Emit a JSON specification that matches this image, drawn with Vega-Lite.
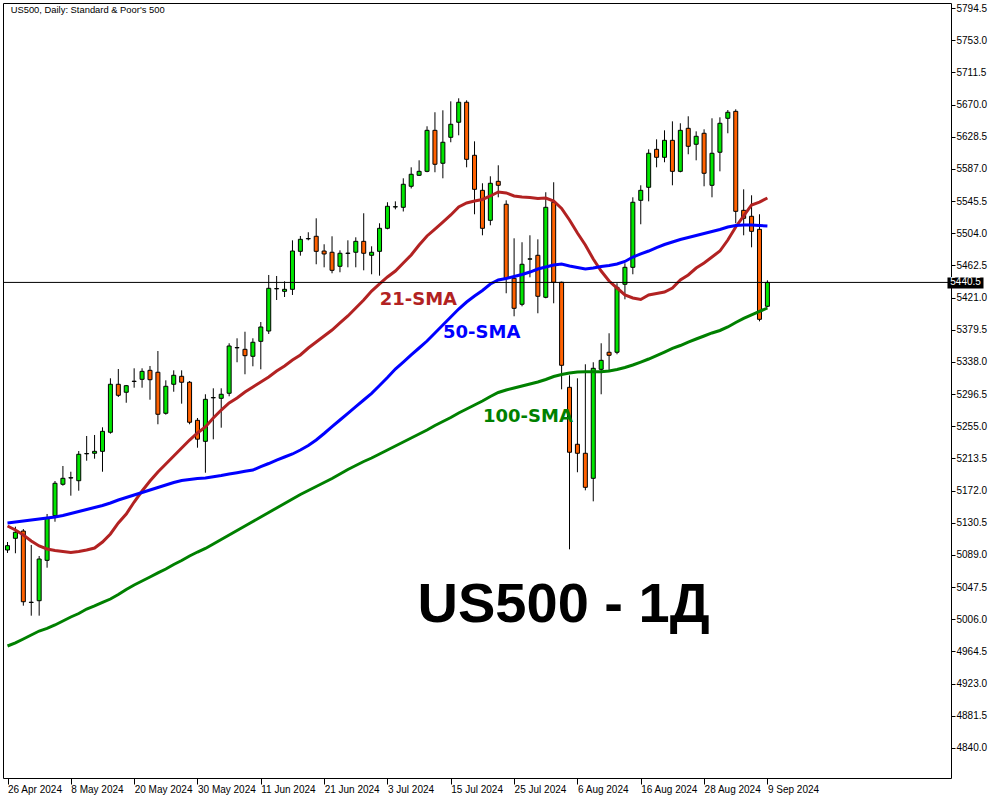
{
  "$schema": "https://vega.github.io/schema/vega-lite/v6.json",
  "width": 948,
  "height": 775,
  "autosize": {"type": "none"},
  "padding": {"left": 3, "top": 3, "right": 49, "bottom": 22},
  "background": "#ffffff",
  "config": {
    "view": {"stroke": "#000000", "strokeWidth": 1},
    "axis": {"grid": false, "domain": false, "tickColor": "#000000", "labelColor": "#000000", "labelFont": "Liberation Sans", "labelFontSize": 10, "labelOverlap": false, "labelFlush": false, "labelBound": false}
  },
  "data": {"values": [
    {"i":0,"d":"2024-04-26","o":5095.3,"h":5105.6,"l":5091.5,"c":5100.9,"s21":5126.3,"s50":5130.2,"s100":4971.5},
    {"i":1,"d":"2024-04-29","o":5110.4,"h":5125.4,"l":5091.1,"c":5118.2,"s21":5121.1,"s50":5131.4,"s100":4975.4},
    {"i":2,"d":"2024-04-30","o":5119.8,"h":5122.4,"l":5023.5,"c":5028.6,"s21":5114.7,"s50":5132.7,"s100":4980.5},
    {"i":3,"d":"2024-05-01","o":5027.6,"h":5101.8,"l":5010.6,"c":5028.0,"s21":5106.9,"s50":5134.0,"s100":4985.7},
    {"i":4,"d":"2024-05-02","o":5029.9,"h":5087.6,"l":5010.6,"c":5083.7,"s21":5100.5,"s50":5135.3,"s100":4990.8},
    {"i":5,"d":"2024-05-03","o":5082.0,"h":5141.8,"l":5072.5,"c":5136.2,"s21":5096.6,"s50":5136.6,"s100":4994.1},
    {"i":6,"d":"2024-05-06","o":5139.6,"h":5184.3,"l":5131.8,"c":5181.4,"s21":5094.7,"s50":5137.9,"s100":4998.6},
    {"i":7,"d":"2024-05-07","o":5180.1,"h":5203.7,"l":5178.3,"c":5187.8,"s21":5093.4,"s50":5139.8,"s100":5003.7},
    {"i":8,"d":"2024-05-08","o":5188.2,"h":5196.3,"l":5165.4,"c":5188.6,"s21":5092.1,"s50":5142.4,"s100":5008.9},
    {"i":9,"d":"2024-05-09","o":5184.7,"h":5223.0,"l":5171.8,"c":5218.8,"s21":5093.4,"s50":5145.0,"s100":5013.4},
    {"i":10,"d":"2024-05-10","o":5219.4,"h":5242.4,"l":5210.5,"c":5219.8,"s21":5095.3,"s50":5147.6,"s100":5019.2},
    {"i":11,"d":"2024-05-13","o":5220.1,"h":5243.7,"l":5213.1,"c":5222.6,"s21":5097.9,"s50":5150.1,"s100":5023.1},
    {"i":12,"d":"2024-05-14","o":5222.6,"h":5253.6,"l":5196.3,"c":5248.4,"s21":5105.6,"s50":5152.7,"s100":5027.6},
    {"i":13,"d":"2024-05-15","o":5247.2,"h":5316.8,"l":5245.4,"c":5309.1,"s21":5116.0,"s50":5156.0,"s100":5032.1},
    {"i":14,"d":"2024-05-16","o":5309.1,"h":5328.8,"l":5292.7,"c":5294.9,"s21":5130.2,"s50":5159.8,"s100":5037.9},
    {"i":15,"d":"2024-05-17","o":5298.8,"h":5308.2,"l":5285.3,"c":5307.3,"s21":5141.8,"s50":5163.0,"s100":5044.4},
    {"i":16,"d":"2024-05-20","o":5312.7,"h":5329.7,"l":5304.7,"c":5313.1,"s21":5157.2,"s50":5166.3,"s100":5050.2},
    {"i":17,"d":"2024-05-21","o":5315.5,"h":5329.7,"l":5304.7,"c":5325.8,"s21":5171.4,"s50":5169.5,"s100":5055.3},
    {"i":18,"d":"2024-05-22","o":5327.1,"h":5332.7,"l":5289.2,"c":5315.0,"s21":5184.3,"s50":5172.7,"s100":5060.5},
    {"i":19,"d":"2024-05-23","o":5324.6,"h":5352.0,"l":5257.5,"c":5270.4,"s21":5195.9,"s50":5175.9,"s100":5065.7},
    {"i":20,"d":"2024-05-24","o":5271.7,"h":5314.2,"l":5269.9,"c":5306.5,"s21":5206.3,"s50":5179.2,"s100":5070.8},
    {"i":21,"d":"2024-05-27","o":5309.1,"h":5327.1,"l":5299.5,"c":5320.7,"s21":5216.6,"s50":5182.4,"s100":5076.6},
    {"i":22,"d":"2024-05-28","o":5319.4,"h":5327.1,"l":5284.1,"c":5311.7,"s21":5226.9,"s50":5185.0,"s100":5081.8},
    {"i":23,"d":"2024-05-29","o":5311.7,"h":5313.3,"l":5257.5,"c":5260.1,"s21":5237.2,"s50":5186.3,"s100":5087.6},
    {"i":24,"d":"2024-05-30","o":5262.6,"h":5265.6,"l":5227.3,"c":5238.3,"s21":5246.3,"s50":5187.6,"s100":5092.7},
    {"i":25,"d":"2024-05-31","o":5235.5,"h":5296.2,"l":5195.0,"c":5289.7,"s21":5254.0,"s50":5188.2,"s100":5097.3},
    {"i":26,"d":"2024-06-03","o":5291.6,"h":5303.9,"l":5238.1,"c":5292.0,"s21":5265.6,"s50":5189.9,"s100":5103.1},
    {"i":27,"d":"2024-06-04","o":5291.0,"h":5303.9,"l":5253.1,"c":5296.2,"s21":5275.9,"s50":5191.4,"s100":5108.9},
    {"i":28,"d":"2024-06-05","o":5297.5,"h":5362.0,"l":5293.6,"c":5358.5,"s21":5285.0,"s50":5193.4,"s100":5114.7},
    {"i":29,"d":"2024-06-06","o":5356.1,"h":5368.4,"l":5337.5,"c":5356.5,"s21":5291.4,"s50":5195.0,"s100":5120.5},
    {"i":30,"d":"2024-06-07","o":5354.2,"h":5376.9,"l":5322.0,"c":5346.0,"s21":5299.1,"s50":5196.8,"s100":5126.3},
    {"i":31,"d":"2024-06-10","o":5345.2,"h":5368.4,"l":5332.3,"c":5363.3,"s21":5305.6,"s50":5198.5,"s100":5132.1},
    {"i":32,"d":"2024-06-11","o":5364.5,"h":5389.4,"l":5328.4,"c":5383.0,"s21":5312.0,"s50":5203.0,"s100":5137.9},
    {"i":33,"d":"2024-06-12","o":5377.8,"h":5450.1,"l":5374.0,"c":5432.9,"s21":5318.5,"s50":5206.9,"s100":5143.7},
    {"i":34,"d":"2024-06-13","o":5432.2,"h":5448.8,"l":5417.8,"c":5432.6,"s21":5326.2,"s50":5211.4,"s100":5149.5},
    {"i":35,"d":"2024-06-14","o":5429.0,"h":5441.9,"l":5421.7,"c":5431.6,"s21":5332.7,"s50":5215.3,"s100":5155.3},
    {"i":36,"d":"2024-06-17","o":5431.6,"h":5494.8,"l":5424.3,"c":5481.0,"s21":5340.4,"s50":5219.2,"s100":5161.1},
    {"i":37,"d":"2024-06-18","o":5480.6,"h":5500.4,"l":5475.0,"c":5496.1,"s21":5346.9,"s50":5224.3,"s100":5166.9},
    {"i":38,"d":"2024-06-19","o":5496.7,"h":5505.2,"l":5494.8,"c":5497.1,"s21":5355.9,"s50":5230.1,"s100":5172.1},
    {"i":39,"d":"2024-06-20","o":5500.0,"h":5523.2,"l":5463.9,"c":5480.6,"s21":5363.6,"s50":5237.2,"s100":5177.2},
    {"i":40,"d":"2024-06-21","o":5481.0,"h":5489.7,"l":5460.0,"c":5477.2,"s21":5371.4,"s50":5245.6,"s100":5182.4},
    {"i":41,"d":"2024-06-24","o":5479.4,"h":5500.0,"l":5452.3,"c":5456.1,"s21":5379.1,"s50":5254.4,"s100":5187.6},
    {"i":42,"d":"2024-06-25","o":5461.3,"h":5481.9,"l":5453.6,"c":5478.1,"s21":5388.2,"s50":5263.0,"s100":5193.4},
    {"i":43,"d":"2024-06-26","o":5477.9,"h":5494.8,"l":5460.0,"c":5478.3,"s21":5397.2,"s50":5271.7,"s100":5199.2},
    {"i":44,"d":"2024-06-27","o":5479.4,"h":5498.7,"l":5460.0,"c":5493.5,"s21":5407.5,"s50":5280.2,"s100":5204.3},
    {"i":45,"d":"2024-06-28","o":5493.5,"h":5529.7,"l":5456.1,"c":5478.1,"s21":5417.8,"s50":5288.8,"s100":5209.5},
    {"i":46,"d":"2024-07-01","o":5475.5,"h":5487.1,"l":5451.0,"c":5479.4,"s21":5429.4,"s50":5297.5,"s100":5214.0},
    {"i":47,"d":"2024-07-02","o":5480.6,"h":5516.8,"l":5449.2,"c":5510.3,"s21":5438.5,"s50":5307.5,"s100":5219.2},
    {"i":48,"d":"2024-07-03","o":5510.3,"h":5543.9,"l":5509.0,"c":5538.7,"s21":5447.5,"s50":5317.8,"s100":5224.3},
    {"i":49,"d":"2024-07-04","o":5537.8,"h":5545.1,"l":5534.8,"c":5538.2,"s21":5455.2,"s50":5328.8,"s100":5229.5},
    {"i":50,"d":"2024-07-05","o":5537.4,"h":5574.8,"l":5532.0,"c":5567.1,"s21":5465.6,"s50":5337.8,"s100":5234.6},
    {"i":51,"d":"2024-07-08","o":5564.5,"h":5589.0,"l":5561.7,"c":5580.0,"s21":5475.9,"s50":5346.9,"s100":5239.8},
    {"i":52,"d":"2024-07-09","o":5578.7,"h":5598.0,"l":5577.8,"c":5583.8,"s21":5488.8,"s50":5355.9,"s100":5245.0},
    {"i":53,"d":"2024-07-10","o":5583.8,"h":5641.9,"l":5582.6,"c":5636.7,"s21":5500.4,"s50":5364.9,"s100":5250.1},
    {"i":54,"d":"2024-07-11","o":5636.7,"h":5660.0,"l":5582.6,"c":5592.9,"s21":5509.4,"s50":5375.3,"s100":5255.9},
    {"i":55,"d":"2024-07-12","o":5594.2,"h":5662.5,"l":5574.8,"c":5621.3,"s21":5518.4,"s50":5385.6,"s100":5261.1},
    {"i":56,"d":"2024-07-15","o":5627.7,"h":5674.1,"l":5621.3,"c":5644.5,"s21":5527.5,"s50":5395.9,"s100":5266.2},
    {"i":57,"d":"2024-07-16","o":5647.1,"h":5678.0,"l":5630.3,"c":5672.9,"s21":5537.8,"s50":5406.2,"s100":5272.1},
    {"i":58,"d":"2024-07-17","o":5672.9,"h":5675.4,"l":5589.0,"c":5599.3,"s21":5543.0,"s50":5415.2,"s100":5277.2},
    {"i":59,"d":"2024-07-18","o":5604.5,"h":5622.5,"l":5528.4,"c":5560.6,"s21":5545.5,"s50":5423.0,"s100":5282.4},
    {"i":60,"d":"2024-07-19","o":5559.3,"h":5568.4,"l":5501.3,"c":5510.3,"s21":5547.5,"s50":5430.1,"s100":5287.5},
    {"i":61,"d":"2024-07-22","o":5520.6,"h":5577.4,"l":5514.2,"c":5568.4,"s21":5552.0,"s50":5438.5,"s100":5293.3},
    {"i":62,"d":"2024-07-23","o":5570.9,"h":5591.6,"l":5550.3,"c":5565.8,"s21":5557.1,"s50":5443.6,"s100":5298.5},
    {"i":63,"d":"2024-07-24","o":5541.3,"h":5546.4,"l":5426.5,"c":5445.8,"s21":5555.9,"s50":5445.6,"s100":5301.7},
    {"i":64,"d":"2024-07-25","o":5445.8,"h":5497.4,"l":5396.8,"c":5407.1,"s21":5552.0,"s50":5448.1,"s100":5304.3},
    {"i":65,"d":"2024-07-26","o":5412.3,"h":5492.3,"l":5409.7,"c":5463.9,"s21":5550.7,"s50":5450.7,"s100":5306.9},
    {"i":66,"d":"2024-07-29","o":5470.5,"h":5501.3,"l":5447.1,"c":5470.9,"s21":5550.0,"s50":5453.9,"s100":5309.5},
    {"i":67,"d":"2024-07-30","o":5475.5,"h":5496.1,"l":5400.7,"c":5422.6,"s21":5548.8,"s50":5457.8,"s100":5312.0},
    {"i":68,"d":"2024-07-31","o":5421.3,"h":5556.8,"l":5420.0,"c":5537.4,"s21":5549.4,"s50":5460.4,"s100":5315.3},
    {"i":69,"d":"2024-08-01","o":5543.9,"h":5569.7,"l":5413.6,"c":5440.7,"s21":5545.5,"s50":5463.0,"s100":5319.1},
    {"i":70,"d":"2024-08-02","o":5440.7,"h":5441.5,"l":5302.6,"c":5333.6,"s21":5535.9,"s50":5464.3,"s100":5321.7},
    {"i":71,"d":"2024-08-05","o":5305.2,"h":5320.7,"l":5096.2,"c":5221.4,"s21":5521.0,"s50":5461.7,"s100":5323.7},
    {"i":72,"d":"2024-08-06","o":5231.7,"h":5316.8,"l":5195.6,"c":5220.1,"s21":5504.3,"s50":5459.7,"s100":5324.9},
    {"i":73,"d":"2024-08-07","o":5220.1,"h":5334.9,"l":5172.3,"c":5176.2,"s21":5488.8,"s50":5457.8,"s100":5325.3},
    {"i":74,"d":"2024-08-08","o":5187.8,"h":5337.5,"l":5158.1,"c":5329.7,"s21":5470.7,"s50":5459.1,"s100":5325.3},
    {"i":75,"d":"2024-08-09","o":5328.4,"h":5362.0,"l":5296.2,"c":5340.0,"s21":5455.2,"s50":5461.0,"s100":5325.3},
    {"i":76,"d":"2024-08-12","o":5350.4,"h":5374.9,"l":5327.1,"c":5346.5,"s21":5442.3,"s50":5462.3,"s100":5326.2},
    {"i":77,"d":"2024-08-13","o":5350.4,"h":5439.4,"l":5347.8,"c":5434.2,"s21":5433.3,"s50":5464.3,"s100":5328.2},
    {"i":78,"d":"2024-08-14","o":5438.1,"h":5465.2,"l":5418.7,"c":5460.0,"s21":5424.3,"s50":5467.5,"s100":5330.7},
    {"i":79,"d":"2024-08-15","o":5460.0,"h":5550.3,"l":5451.0,"c":5543.9,"s21":5420.4,"s50":5473.3,"s100":5334.0},
    {"i":80,"d":"2024-08-16","o":5546.4,"h":5565.8,"l":5515.5,"c":5559.3,"s21":5418.5,"s50":5477.2,"s100":5337.8},
    {"i":81,"d":"2024-08-19","o":5563.2,"h":5612.2,"l":5545.1,"c":5607.1,"s21":5424.3,"s50":5481.0,"s100":5341.7},
    {"i":82,"d":"2024-08-20","o":5612.2,"h":5625.1,"l":5589.0,"c":5601.9,"s21":5426.2,"s50":5485.5,"s100":5346.2},
    {"i":83,"d":"2024-08-21","o":5601.9,"h":5636.7,"l":5595.5,"c":5623.8,"s21":5428.1,"s50":5489.4,"s100":5350.7},
    {"i":84,"d":"2024-08-22","o":5623.8,"h":5648.3,"l":5565.8,"c":5583.8,"s21":5433.3,"s50":5492.6,"s100":5355.3},
    {"i":85,"d":"2024-08-23","o":5583.8,"h":5645.8,"l":5582.5,"c":5636.7,"s21":5443.6,"s50":5495.9,"s100":5359.1},
    {"i":86,"d":"2024-08-26","o":5639.3,"h":5654.8,"l":5605.8,"c":5616.1,"s21":5450.1,"s50":5498.4,"s100":5363.6},
    {"i":87,"d":"2024-08-27","o":5618.7,"h":5635.4,"l":5598.0,"c":5629.0,"s21":5459.1,"s50":5501.0,"s100":5367.5},
    {"i":88,"d":"2024-08-28","o":5632.9,"h":5638.0,"l":5564.5,"c":5581.3,"s21":5465.6,"s50":5503.6,"s100":5371.4},
    {"i":89,"d":"2024-08-29","o":5565.8,"h":5652.2,"l":5550.3,"c":5607.1,"s21":5473.3,"s50":5506.2,"s100":5375.3},
    {"i":90,"d":"2024-08-30","o":5608.4,"h":5653.5,"l":5583.8,"c":5645.8,"s21":5481.0,"s50":5508.8,"s100":5378.5},
    {"i":91,"d":"2024-09-02","o":5652.2,"h":5662.9,"l":5632.9,"c":5660.0,"s21":5495.2,"s50":5512.0,"s100":5383.0},
    {"i":92,"d":"2024-09-03","o":5661.2,"h":5663.8,"l":5516.8,"c":5532.2,"s21":5512.0,"s50":5513.9,"s100":5388.8},
    {"i":93,"d":"2024-09-04","o":5533.5,"h":5560.6,"l":5501.3,"c":5523.2,"s21":5526.2,"s50":5514.6,"s100":5394.0},
    {"i":94,"d":"2024-09-05","o":5525.8,"h":5552.9,"l":5485.8,"c":5506.4,"s21":5540.4,"s50":5514.6,"s100":5398.5},
    {"i":95,"d":"2024-09-06","o":5509.0,"h":5528.4,"l":5390.3,"c":5392.9,"s21":5544.2,"s50":5513.9,"s100":5403.0},
    {"i":96,"d":"2024-09-09","o":5409.7,"h":5443.2,"l":5408.4,"c":5440.5,"s21":5549.4,"s50":5513.3,"s100":5407.5}
  ]},
  "layer": [
    {
      "mark": {"type": "rule", "color": "#000000", "strokeWidth": 1, "clip": true},
      "encoding": {
        "x": {"field": "i", "type": "quantitative", "title": null, "scale": {"domain": [0.0625, 118.5625], "nice": false, "zero": false},
              "axis": {"values": [0,8,16,24,32,40,48,56,64,72,80,88,96], "tickCount": 50, "tickSize": 6, "labelAlign": "left", "labelBaseline": "top", "labelPadding": 0, "labelOffset": 0, "labelOverlap": false, "labelFlush": false, "labelBound": false,
                       "labelExpr": "['26 Apr 2024','8 May 2024','20 May 2024','30 May 2024','11 Jun 2024','21 Jun 2024','3 Jul 2024','15 Jul 2024','25 Jul 2024','6 Aug 2024','16 Aug 2024','28 Aug 2024','9 Sep 2024'][round(datum.value/8)]"}},
        "y": {"field": "l", "type": "quantitative", "title": null, "scale": {"domain": [4801.2, 5800.95], "nice": false, "zero": false},
              "axis": {"orient": "right", "values": [4840.0,4881.5,4923.0,4964.5,5006.0,5047.5,5089.0,5130.5,5172.0,5213.5,5255.0,5296.5,5338.0,5379.5,5421.0,5462.5,5504.0,5545.5,5587.0,5628.5,5670.0,5711.5,5753.0,5794.5], "tickCount": 50, "format": ".1f", "tickSize": 4, "labelPadding": 1, "labelAlign": "left", "labelBaseline": "middle", "labelOverlap": false, "labelFlush": false, "labelBound": false}},
        "y2": {"field": "h"}
      }
    },
    {
      "mark": {"type": "bar", "width": 4, "stroke": "#000000", "strokeWidth": 1, "clip": true},
      "encoding": {
        "x": {"field": "i", "type": "quantitative", "title": null},
        "y": {"field": "o", "type": "quantitative", "title": null},
        "y2": {"field": "c"},
        "fill": {"condition": {"test": "datum.c >= datum.o", "value": "#00e600"}, "value": "#ff6100"}
      }
    },
    {
      "mark": {"type": "line", "color": "#b22222", "strokeWidth": 3, "clip": true},
      "encoding": {"x": {"field": "i", "type": "quantitative", "title": null}, "y": {"field": "s21", "type": "quantitative", "title": null}}
    },
    {
      "mark": {"type": "line", "color": "#0000ff", "strokeWidth": 3, "clip": true},
      "encoding": {"x": {"field": "i", "type": "quantitative", "title": null}, "y": {"field": "s50", "type": "quantitative", "title": null}}
    },
    {
      "mark": {"type": "line", "color": "#008000", "strokeWidth": 3, "clip": true},
      "encoding": {"x": {"field": "i", "type": "quantitative", "title": null}, "y": {"field": "s100", "type": "quantitative", "title": null}}
    },
    {
      "data": {"values": [{"p": 5440.5}]},
      "mark": {"type": "rule", "color": "#000000", "strokeWidth": 1},
      "encoding": {"y": {"field": "p", "type": "quantitative", "title": null}}
    },
    {
      "data": {"values": [{"p": 5440.5}]},
      "mark": {"type": "rect", "color": "#000000", "clip": false},
      "encoding": {"x": {"datum": 118.75}, "x2": {"datum": 123.3}, "y": {"datum": 5446.8}, "y2": {"datum": 5432.7}}
    },
    {
      "data": {"values": [{"p": 5440.5}]},
      "mark": {"type": "text", "color": "#ffffff", "font": "Liberation Sans", "fontSize": 10, "align": "left", "baseline": "middle", "clip": false},
      "encoding": {"x": {"datum": 119.1}, "y": {"field": "p", "type": "quantitative", "title": null}, "text": {"field": "p", "format": ".1f"}}
    },
    {
      "data": {"values": [{}]},
      "mark": {"type": "text", "text": "US500, Daily:  Standard & Poor's 500", "font": "Liberation Sans", "fontSize": 9.4, "align": "left", "baseline": "middle", "color": "#000000"},
      "encoding": {"x": {"datum": 0.4}, "y": {"datum": 5791.9}}
    },
    {
      "data": {"values": [{}]},
      "mark": {"type": "text", "text": "21-SMA", "font": "DejaVu Sans", "fontWeight": "bold", "fontSize": 18, "align": "center", "baseline": "middle", "color": "#b22222"},
      "encoding": {"x": {"datum": 51.9}, "y": {"datum": 5417.8}}
    },
    {
      "data": {"values": [{}]},
      "mark": {"type": "text", "text": "50-SMA", "font": "DejaVu Sans", "fontWeight": "bold", "fontSize": 18, "align": "center", "baseline": "middle", "color": "#0000ff"},
      "encoding": {"x": {"datum": 59.9}, "y": {"datum": 5375.3}}
    },
    {
      "data": {"values": [{}]},
      "mark": {"type": "text", "text": "100-SMA", "font": "DejaVu Sans", "fontWeight": "bold", "fontSize": 18, "align": "center", "baseline": "middle", "color": "#008000"},
      "encoding": {"x": {"datum": 65.75}, "y": {"datum": 5266.9}}
    },
    {
      "data": {"values": [{}]},
      "mark": {"type": "text", "text": "US500 - 1Д", "font": "Liberation Sans", "fontWeight": "bold", "fontSize": 56, "align": "center", "baseline": "middle", "color": "#000000"},
      "encoding": {"x": {"datum": 70.25}, "y": {"datum": 5024.4}}
    }
  ]
}
